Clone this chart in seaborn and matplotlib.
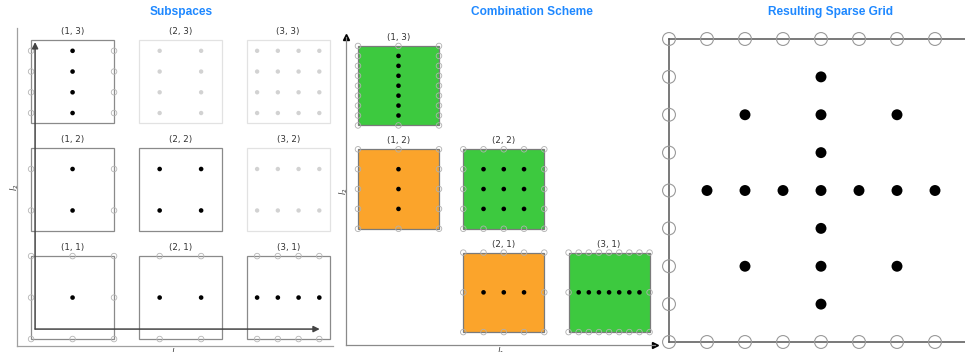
import numpy as np
import pandas as pd
import matplotlib
matplotlib.use("Agg")
import matplotlib.pyplot as plt
from matplotlib.patches import Rectangle
import seaborn as sns

# ---- data -------------------------------------------------------------
max_level = 3
subspace_levels = [(1, 1), (2, 1), (3, 1),
                   (1, 2), (2, 2), (3, 2),
                   (1, 3), (2, 3), (3, 3)]
combination_levels = [(1, 3), (2, 2), (3, 1), (1, 2), (2, 1)]
combination_coeffs = [1, 1, 1, -1, -1]
panel_titles = ["Subspaces", "Combination Scheme", "Resulting Sparse Grid"]
axis_labels = ["$l_1$", "$l_2$"]

# ---- styling ----------------------------------------------------------
sns.set_theme(style="white")
plt.rcParams["font.family"] = ["DejaVu Sans"]

W, H = 965, 352
fig = plt.figure(figsize=(W / 100, H / 100), dpi=100)


def px_axes(left, top, right, bottom):
    return fig.add_axes([left / W, 1 - bottom / H, (right - left) / W, (bottom - top) / H])


def hier_1d(level):
    if level == 1:
        return np.array([0.0, 0.5, 1.0])
    return np.arange(1, 2 ** level, 2) / 2 ** level


def full_1d(level):
    return np.arange(0, 2 ** level + 1) / 2 ** level


def grid_frame(xs, ys):
    gx, gy = np.meshgrid(xs, ys)
    df = pd.DataFrame({"x": gx.ravel(), "y": gy.ravel()})
    df["boundary"] = (df.x == 0) | (df.x == 1) | (df.y == 0) | (df.y == 1)
    return df


def dots(ax, df, s, color, z=3):
    if df.empty:
        return
    sns.scatterplot(data=df, x="x", y="y", ax=ax, s=s, color=color,
                    edgecolor="none", linewidth=0, zorder=z, clip_on=False, legend=False)


def rings(ax, df, s, color, lw, z=3):
    if df.empty:
        return
    ax.scatter(df.x.to_numpy(), df.y.to_numpy(), s=s, facecolors="none", edgecolors=color,
               linewidths=lw, zorder=z, clip_on=False)


def arrow_axes(ax, spine_color, label_x, label_y):
    ax.set_xticks([])
    ax.set_yticks([])
    for side in ["top", "right"]:
        ax.spines[side].set_visible(False)
    for side in ["left", "bottom"]:
        ax.spines[side].set_color(spine_color)
        ax.spines[side].set_linewidth(0.9)
    ax.set_xlabel(axis_labels[0], fontsize=6, color=TXT)
    ax.set_ylabel(axis_labels[1], fontsize=6, color=TXT)
    ax.xaxis.set_label_coords(0.5, label_x)
    ax.yaxis.set_label_coords(label_y, 0.5)


STEP = 1.3
GREEN = "#3dc93f"
ORANGE = "#fba42b"
BLUE = "#1e88ff"
TXT = "#333333"

# ---- panel 1: hierarchical subspaces ------------------------------------
ax1 = px_axes(17, 28, 333, 346)
ax1.set_xlim(-0.17, 3.64)
ax1.set_ylim(-0.084, 3.75)
for (l1, l2) in subspace_levels:
    ox, oy = (l1 - 1) * STEP, (l2 - 1) * STEP
    active = l1 + l2 <= max_level + 1
    ax1.add_patch(Rectangle((ox, oy), 1, 1, fill=False,
                            ec="#8a8a8a" if active else "#e2e2e2", lw=0.9, zorder=2))
    ax1.text(ox + 0.5, oy + 1.05, f"({l1}, {l2})", ha="center", va="bottom",
             fontsize=6.3, color=TXT)
    df = grid_frame(hier_1d(l1), hier_1d(l2))
    df["x"] += ox
    df["y"] += oy
    if active:
        dots(ax1, df[~df.boundary], 11, "black")
        rings(ax1, df[df.boundary], 16, "#b5b5b5", 0.6)
    else:
        dots(ax1, df, 10, "#d2d2d2")

arrow_kw = dict(arrowstyle="-|>", color="#444444", lw=1.1, mutation_scale=9,
                shrinkA=0, shrinkB=0)
ax1.annotate("", xy=(0.048, 3.58), xytext=(0.048, 0.12), arrowprops=arrow_kw, zorder=4)
ax1.annotate("", xy=(3.48, 0.12), xytext=(0.048, 0.12), arrowprops=arrow_kw, zorder=4)
arrow_axes(ax1, "#a0a0a0", -0.003, 0.012)

# ---- panel 2: combination of full grids --------------------------------
ax2 = px_axes(346, 37, 655, 345)
ax2.set_xlim(-0.148, 3.667)
ax2.set_ylim(-0.1625, 3.713)
for (l1, l2), c in zip(combination_levels, combination_coeffs):
    ox, oy = (l1 - 1) * STEP, (l2 - 1) * STEP
    ax2.add_patch(Rectangle((ox, oy), 1, 1, fc=GREEN if c > 0 else ORANGE,
                            ec="#7a7a7a", lw=0.9, zorder=2))
    ax2.text(ox + 0.5, oy + 1.05, f"({l1}, {l2})", ha="center", va="bottom",
             fontsize=6.3, color=TXT)
    df = grid_frame(full_1d(l1), full_1d(l2))
    df["x"] += ox
    df["y"] += oy
    dots(ax2, df[~df.boundary], 11, "black")
    rings(ax2, df[df.boundary], 16, "#b0b0b0", 0.6)

arrow_axes(ax2, "#8a8a8a", -0.003, 0.012)
ax2.plot(0, 1, "^", color="black", ms=4.5, transform=ax2.transAxes, clip_on=False)
ax2.plot(1, 0, ">", color="black", ms=4.5, transform=ax2.transAxes, clip_on=False)

# ---- panel 3: resulting sparse grid ------------------------------------
ax3 = px_axes(669, 39, 973, 342)
ax3.set_xlim(0, 1)
ax3.set_ylim(0, 1)
sparse = pd.concat([grid_frame(hier_1d(l1), hier_1d(l2))
                    for (l1, l2) in subspace_levels if l1 + l2 <= max_level + 1])
sparse = sparse[~sparse.boundary].drop_duplicates()
edge = grid_frame(full_1d(max_level), full_1d(max_level))
edge = edge[edge.boundary]
dots(ax3, sparse, 62, "black")
rings(ax3, edge, 86, "#9a9a9a", 0.8)
ax3.set_xticks([])
ax3.set_yticks([])
ax3.set_xlabel("")
ax3.set_ylabel("")
for side in ["left", "top", "bottom", "right"]:
    ax3.spines[side].set_color("#555555")
    ax3.spines[side].set_linewidth(1.1)

# ---- panel titles --------------------------------------------------------
for xc, title in zip([181, 532, 831], panel_titles):
    fig.text(xc / W, 1 - 12 / H, title, ha="center", va="center", fontsize=8.6,
             fontweight="bold", color=BLUE, family=["Liberation Sans", "DejaVu Sans"])

fig.savefig("out.png", dpi=100)
